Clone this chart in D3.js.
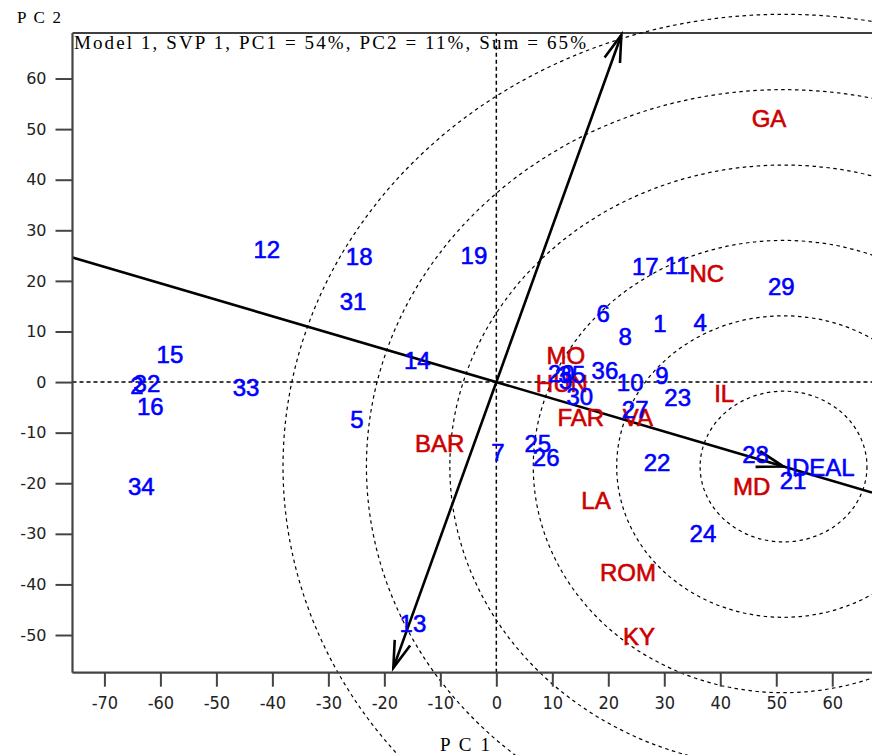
<!DOCTYPE html>
<html>
<head>
<meta charset="utf-8">
<script src="https://cdn.jsdelivr.net/npm/d3@7"></script>
<style>
  body { margin: 0; background: #fff; }
  svg { display: block; }
</style>
</head>
<body>
<div id="chart_biplot"></div>
<script>
// genotype labels and their PC1 / PC2 scores
const genotypes = ["1","2","3","4","5","6","7","8","9","10","11","12","13","14","15","16","17","18",
    "19","20","21","22","23","24","25","26","27","28","29","30","31","32","33","34","35","36"];
const genoPC1 = [29.2,-64.2,12.4,36.4,-24.9,19.1,0.3,23.0,29.6,23.9,32.3,-41.0,-14.9,-14.1,-58.3,-61.8,26.6,-24.5,
    -4.0,11.6,53.0,28.7,32.4,36.9,7.4,8.9,24.8,46.3,50.9,14.9,-25.6,-62.4,-44.7,-63.4,13.5,19.4];
const genoPC2 = [11.7,-0.6,0.4,11.9,-7.3,13.6,-13.8,9.1,1.4,0.0,23.1,26.3,-47.6,4.3,5.5,-4.9,22.9,24.9,
    25.1,1.8,-19.4,-15.8,-3.0,-30.0,-12.1,-14.8,-5.3,-14.2,19.0,-2.8,16.0,-0.2,-1.0,-20.6,1.6,2.4];

// environments
const environments = ["GA","NC","IL","MO","HUN","FAR","VA","BAR","LA","MD","ROM","KY"];
const envPC1 = [48.7,37.6,40.7,12.4,11.7,15.1,25.3,-10.1,17.8,45.6,23.5,25.5];
const envPC2 = [52.2,21.5,-2.2,5.3,-0.2,-6.9,-6.9,-12.1,-23.3,-20.6,-37.7,-50.2];

// ideal genotype label, average environment coordinate and its circles
const idealLabel = ["IDEAL"];
const idealPC1 = [57.8];
const idealPC2 = [-16.8];
const aecCentre = [51.3, -16.7];
const circleRadii = [14.9, 29.8, 44.7, 59.6, 74.5, 89.4];
const ordinateEnds = [-56.5, 68.6];   // PC2 where the ordinate arrows stop

const xTicks = [-70,-60,-50,-40,-30,-20,-10,0,10,20,30,40,50,60];
const yTicks = [-50,-40,-30,-20,-10,0,10,20,30,40,50,60];
const xDomain = [-75.7, 67.1];
const yDomain = [-57.45, 69];

const title = "Model 1, SVP 1, PC1 = 54%, PC2 = 11%, Sum = 65%";

(function biplot() {
let width = 872,
    height = 755,
    margin = ({ top: 33, right: 0, bottom: 82.3, left: 72.5 });

const svg = d3.select("#chart_biplot")
    .append("svg")
    .attr("width", width)
    .attr("height", height)
    .attr("viewBox", [0, 0, width, height]);

let x = d3.scaleLinear()
    .domain(xDomain)
    .range([margin.left, width - margin.right]);

let y = d3.scaleLinear()
    .domain(yDomain)
    .range([height - margin.bottom, margin.top]);

// circles round the AEC point (data units, so they come out as ellipses)
svg.append("g")
    .selectAll("ellipse")
    .data(circleRadii)
    .join("ellipse")
    .attr("cx", x(aecCentre[0]))
    .attr("cy", y(aecCentre[1]))
    .attr("rx", r => x(r) - x(0))
    .attr("ry", r => y(0) - y(r))
    .attr("fill", "none")
    .attr("stroke", "#000")
    .attr("stroke-width", 1.2)
    .attr("stroke-dasharray", "3.5,3.5");

// zero lines
svg.append("line")
    .attr("x1", x(xDomain[0])).attr("x2", x(xDomain[1]))
    .attr("y1", y(0)).attr("y2", y(0))
    .attr("stroke", "#000").attr("stroke-width", 1.5)
    .attr("stroke-dasharray", "4,3");

svg.append("line")
    .attr("x1", x(0)).attr("x2", x(0))
    .attr("y1", y(yDomain[0])).attr("y2", y(yDomain[1]))
    .attr("stroke", "#000").attr("stroke-width", 1.5)
    .attr("stroke-dasharray", "4,3");

// average environment axis
let slope = aecCentre[1] / aecCentre[0];
svg.append("line")
    .attr("x1", x(xDomain[0])).attr("y1", y(slope * xDomain[0]))
    .attr("x2", x(xDomain[1])).attr("y2", y(slope * xDomain[1]))
    .attr("stroke", "#000")
    .attr("stroke-width", 2.6);

// ordinate, perpendicular to it
let perp = -1 / slope;
let ordA = [ordinateEnds[0] / perp, ordinateEnds[0]],
    ordB = [ordinateEnds[1] / perp, ordinateEnds[1]];
svg.append("line")
    .attr("x1", x(ordA[0])).attr("y1", y(ordA[1]))
    .attr("x2", x(ordB[0])).attr("y2", y(ordB[1]))
    .attr("stroke", "#000")
    .attr("stroke-width", 2.6);

function arrowHead(from, tip) {
    let px = x(tip[0]), py = y(tip[1]);
    let dx = x(from[0]) - px, dy = y(from[1]) - py;
    let len = Math.hypot(dx, dy);
    dx /= len; dy /= len;
    let L = 28, a = 17 * Math.PI / 180;
    let pts = [-a, a].map(t => [
        px + L * (dx * Math.cos(t) - dy * Math.sin(t)),
        py + L * (dx * Math.sin(t) + dy * Math.cos(t))
    ]);
    svg.append("path")
        .attr("d", `M${pts[0]}L${px},${py}L${pts[1]}`)
        .attr("fill", "none")
        .attr("stroke", "#000")
        .attr("stroke-width", 2.6)
        .attr("stroke-linejoin", "miter");
}
arrowHead([0, 0], aecCentre);
arrowHead([0, 0], ordA);
arrowHead([0, 0], ordB);

// frame: top line
svg.append("line")
    .attr("x1", margin.left).attr("x2", width)
    .attr("y1", margin.top).attr("y2", margin.top)
    .attr("stroke", "#000").attr("stroke-width", 1.6);

// axes (plain hyphen for negatives, like the original)
let xAxis = svg.append("g")
    .attr("transform", `translate(0,${height - margin.bottom})`)
    .call(d3.axisBottom(x).tickValues(xTicks).tickFormat(d => String(d))
        .tickSize(14).tickPadding(10).tickSizeOuter(0));

let yAxis = svg.append("g")
    .attr("transform", `translate(${margin.left},0)`)
    .call(d3.axisLeft(y).tickValues(yTicks).tickFormat(d => String(d))
        .tickSize(17).tickPadding(9).tickSizeOuter(0));

xAxis.select(".domain").attr("d", `M${margin.left},0H${width}`);
yAxis.select(".domain").attr("d", `M0,${margin.top}V${height - margin.bottom}`);

for (let ax of [xAxis, yAxis]) {
    ax.select(".domain").attr("stroke", "#444").attr("stroke-width", 2.2);
    ax.selectAll(".tick line").attr("stroke", "#444").attr("stroke-width", 2);
}
xAxis.selectAll(".tick text")
    .attr("fill", "#222")
    .style("font-family", "'DejaVu Sans Condensed', 'DejaVu Sans', sans-serif")
    .style("font-size", "18px");
yAxis.selectAll(".tick text")
    .attr("fill", "#222")
    .style("font-family", "'DejaVu Sans', Verdana, sans-serif")
    .style("font-size", "16px");

// title and axis names
svg.append("text")
    .text(title)
    .attr("x", 74)
    .attr("y", 49)
    .attr("textLength", 512)
    .attr("lengthAdjust", "spacing")
    .style("font-family", "'Liberation Serif', 'Times New Roman', serif")
    .style("font-size", "19px")
    .attr("fill", "#000");

svg.append("text")
    .text("P C 2")
    .attr("x", 17)
    .attr("y", 23)
    .attr("textLength", 44)
    .attr("lengthAdjust", "spacing")
    .style("font-family", "'Liberation Serif', 'Times New Roman', serif")
    .style("font-size", "17px")
    .attr("fill", "#000");

svg.append("text")
    .text("P C 1")
    .attr("x", 440)
    .attr("y", 751)
    .attr("textLength", 50)
    .attr("lengthAdjust", "spacing")
    .style("font-family", "'Liberation Serif', 'Times New Roman', serif")
    .style("font-size", "19px")
    .attr("fill", "#000");

// point labels
function labels(names, px, py, colour) {
    svg.append("g")
        .selectAll("text")
        .data(names)
        .join("text")
        .text(d => d)
        .attr("x", (d, i) => x(px[i]))
        .attr("y", (d, i) => y(py[i]))
        .attr("dy", "0.36em")
        .attr("text-anchor", "middle")
        .style("font-family", "'Liberation Sans', Arial, sans-serif")
        .style("font-size", "24px")
        .attr("fill", colour)
        .attr("stroke", colour)
        .attr("stroke-width", 0.6);
}
labels(environments, envPC1, envPC2, "#cc0000");
labels(genotypes, genoPC1, genoPC2, "#0000ff");
labels(idealLabel, idealPC1, idealPC2, "#0000ff");
})();
</script>
</body>
</html>
